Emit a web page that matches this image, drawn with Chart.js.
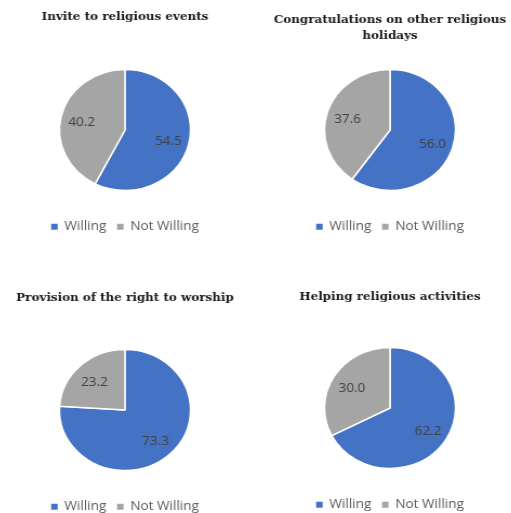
<!DOCTYPE html>
<html>
<head>
<meta charset="utf-8">
<script src="https://cdn.jsdelivr.net/npm/chart.js@4.4.0/dist/chart.umd.min.js"></script>
<style>
  html, body { margin: 0; padding: 0; background: #fff; overflow: hidden; }
  body { width: 511px; height: 513px; position: relative; }
  .box { position: absolute; width: 232px; height: 243px; transform: scaleX(1.083); transform-origin: center; }
</style>
</head>
<body>
<div class="box" style="left:9px;top:0px"><canvas id="c1"></canvas></div>
<div class="box" style="left:274px;top:0px"><canvas id="c2"></canvas></div>
<div class="box" style="left:9px;top:280px"><canvas id="c3"></canvas></div>
<div class="box" style="left:274px;top:278px"><canvas id="c4"></canvas></div>
<script>
// data
const categories = ['Willing', 'Not Willing'];
const inviteValues = [54.5, 40.2];
const congratsValues = [56.0, 37.6];
const worshipValues = [73.3, 23.2];
const helpingValues = [62.2, 30.0];

const colors = ['#4472C4', '#A5A5A5'];

const valueLabels = {
  id: 'valueLabels',
  afterDatasetsDraw(chart) {
    const ctx = chart.ctx;
    const meta = chart.getDatasetMeta(0);
    const vals = chart.data.datasets[0].data;
    ctx.save();
    ctx.font = '12.5px "Open Sans"';
    ctx.fillStyle = '#404040';
    ctx.textAlign = 'center';
    ctx.textBaseline = 'middle';
    meta.data.forEach((arc, i) => {
      const p = arc.getProps(['x', 'y', 'startAngle', 'endAngle', 'outerRadius']);
      const mid = (p.startAngle + p.endAngle) / 2;
      const d = p.outerRadius * 0.68;
      ctx.fillText(vals[i].toFixed(1), p.x + Math.cos(mid) * d, p.y + Math.sin(mid) * d + 2);
    });
    ctx.restore();
  }
};

function makePie(id, title, values, padTop, padBottom) {
  const ctx = document.getElementById(id).getContext('2d');
  return new Chart(ctx, {
    type: 'pie',
    data: {
      labels: categories,
      datasets: [{
        data: values,
        backgroundColor: colors,
        borderColor: '#ffffff',
        borderWidth: 1.5,
        radius: 60.5
      }]
    },
    options: {
      responsive: true,
      maintainAspectRatio: false,
      animation: false,
      layout: { padding: 0 },
      plugins: {
        title: {
          display: true,
          text: title,
          color: '#1a1a1a',
          font: { family: 'DejaVu Serif', size: 11, weight: 'bold', lineHeight: 1.45 },
          padding: { top: padTop, bottom: padBottom }
        },
        legend: {
          position: 'bottom',
          labels: {
            boxWidth: 6,
            boxHeight: 6,
            padding: 10,
            color: '#595959',
            font: { family: 'Open Sans', size: 12.5 },
            generateLabels(chart) {
              const items = Chart.overrides.pie.plugins.legend.labels.generateLabels(chart);
              items.forEach(it => { it.lineWidth = 0; it.strokeStyle = it.fillStyle; });
              return items;
            }
          }
        },
        tooltip: { enabled: false }
      }
    },
    plugins: [valueLabels]
  });
}

makePie('c1', 'Invite to religious events', inviteValues, 9, 24.5);
makePie('c2', ['Congratulations on other religious', 'holidays'], congratsValues, 12, 5.5);
makePie('c3', 'Provision of the right to worship', worshipValues, 10, 23.5);
makePie('c4', 'Helping religious activities', helpingValues, 11, 22.5);
</script>
</body>
</html>
